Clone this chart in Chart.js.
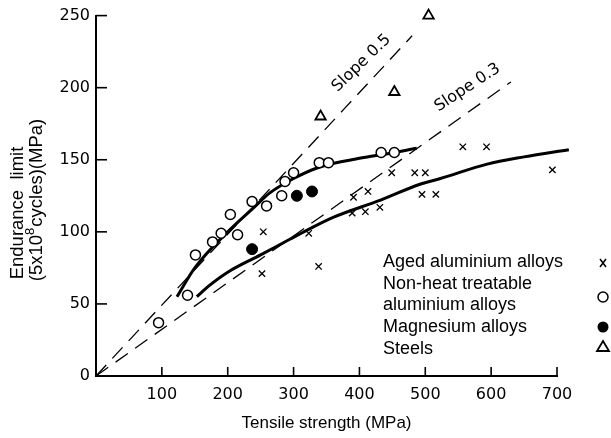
<!DOCTYPE html>
<html>
<head>
<meta charset="utf-8">
<script src="https://cdn.jsdelivr.net/npm/chart.js@4.4.0/dist/chart.umd.min.js"></script>
<style>
  html, body { margin: 0; padding: 0; background: #fff; }
  #wrap { width: 611px; height: 438px; }
</style>
</head>
<body>
<div id="wrap"><canvas id="chart"></canvas></div>
<script>
// points: [tensile strength, endurance limit] in MPa
const agedAlloys = [[252,71],[254,100],[323,99],[338,76],[389,113],[391,124],[409,114],[413,128],
  [431,117],[449,141],[484,141],[500,141],[495,126],[516,126],[557,159],[593,159],[693,143]];
const nonHeatAlloys = [[95,37],[139,56],[151,84],[177,93],[190,99],[204,112],[215,98],[237,121],
  [259,118],[282,125],[287,135],[300,141],[339,148],[353,148],[433,155],[453,155]];
const magnesiumAlloys = [[237,88],[305,125],[328,128]];
const steels = [[341,180],[453,197],[505,250]];

// fitted curves and slope guides
const fitNonHeat = [[123,55],[150,75],[200,100],[240,117],[264,127],[300,137],[340,145],[400,151],[440,154],[487,158]];
const fitAged = [[153,55],[170,62],[200,72],[250,84],[295,95],[320,101],[360,110],[432,122],[492,133],
  [523,137],[594,147],[650,152],[718,157]];
const slope05 = [[0,0],[480,236]];
const slope03 = [[0,0],[630,204]];

const xTicks = [100,200,300,400,500,600,700];
const yTicks = [50,100,150,200,250];
const slopeLabels = ['Slope 0.5', 'Slope 0.3'];
const legendLabels = [['Aged aluminium alloys'], ['Non-heat treatable', 'aluminium alloys'], ['Magnesium alloys'], ['Steels']];

const toXY = pts => pts.map(([x, y]) => ({ x, y }));
const TEXT_FONT = '"Liberation Sans", Arial, sans-serif';
const TICK_FONT = '"DejaVu Sans", sans-serif';

function mark(ctx, style, x, y) {
  ctx.save();
  ctx.strokeStyle = '#000';
  ctx.fillStyle = '#fff';
  ctx.lineWidth = 1.5;
  ctx.beginPath();
  if (style === 'x') {
    ctx.moveTo(x - 3, y - 4); ctx.lineTo(x + 3, y + 4);
    ctx.moveTo(x + 3, y - 4); ctx.lineTo(x - 3, y + 4);
    ctx.stroke();
  } else if (style === 'o') {
    ctx.arc(x, y, 5, 0, Math.PI * 2); ctx.fill(); ctx.stroke();
  } else if (style === 'dot') {
    ctx.fillStyle = '#000';
    ctx.arc(x, y, 5.5, 0, Math.PI * 2); ctx.fill();
  } else {
    ctx.lineWidth = 1.8;
    ctx.moveTo(x, y - 6); ctx.lineTo(x + 6, y + 4); ctx.lineTo(x - 6, y + 4); ctx.closePath();
    ctx.fill(); ctx.stroke();
  }
  ctx.restore();
}

const decor = {
  id: 'decor',
  afterDraw(chart) {
    const { ctx, chartArea: a, scales: { x, y } } = chart;
    ctx.save();
    ctx.strokeStyle = '#000';
    ctx.lineWidth = 1.6;
    // inward tick marks
    xTicks.forEach(v => {
      const px = x.getPixelForValue(v);
      ctx.beginPath(); ctx.moveTo(px, a.bottom); ctx.lineTo(px, a.bottom - 9); ctx.stroke();
    });
    yTicks.forEach(v => {
      const py = y.getPixelForValue(v);
      ctx.beginPath(); ctx.moveTo(a.left, py); ctx.lineTo(a.left + 11, py); ctx.stroke();
    });

    // slope labels along the dashed guides
    ctx.fillStyle = '#000';
    ctx.font = '16px ' + TICK_FONT;
    ctx.textAlign = 'center';
    ctx.textBaseline = 'middle';
    [[403, 217, -0.77], [564, 200, -0.58]].forEach(([dx, dy, rot], i) => {
      ctx.save();
      ctx.translate(x.getPixelForValue(dx), y.getPixelForValue(dy));
      ctx.rotate(rot);
      ctx.fillText(slopeLabels[i], 0, 0);
      ctx.restore();
    });

    // y axis title, two lines with a superscript
    const big = '18.5px ' + TEXT_FONT, small = '13px ' + TEXT_FONT;
    ctx.font = big;
    ctx.save();
    ctx.translate(18, 213);
    ctx.rotate(-Math.PI / 2);
    ctx.fillText('Endurance  limit', 0, 0);
    ctx.restore();
    ctx.save();
    ctx.translate(37, 200);
    ctx.rotate(-Math.PI / 2);
    const p1 = '(5x10', p2 = '8', p3 = 'cycles)(MPa)';
    const w1 = ctx.measureText(p1).width, w3 = ctx.measureText(p3).width;
    ctx.font = small;
    const w2 = ctx.measureText(p2).width + 1;
    let u = -(w1 + w2 + w3) / 2;
    ctx.textAlign = 'left';
    ctx.font = big;
    ctx.fillText(p1, u, 0); u += w1;
    ctx.font = small;
    ctx.fillText(p2, u, -7); u += w2;
    ctx.font = big;
    ctx.fillText(p3, u, 0);
    ctx.restore();

    // legend: text on the left, symbol on the right
    ctx.font = '18px ' + TEXT_FONT;
    ctx.textAlign = 'left';
    ctx.textBaseline = 'alphabetic';
    const baselines = [[266.5], [288.5, 310], [332], [353.5]];
    const symY = [263, 297, 327, 347];
    const styles = ['x', 'o', 'dot', 'tri'];
    legendLabels.forEach((lines, i) => {
      lines.forEach((t, j) => ctx.fillText(t, 383, baselines[i][j]));
      mark(ctx, styles[i], 603, symY[i]);
    });
    ctx.restore();
  }
};

const lineDs = (data, dashed) => ({
  type: 'line',
  data: toXY(data),
  borderColor: '#000',
  borderWidth: dashed ? 1.3 : 3,
  borderDash: dashed ? [15, 9] : [],
  pointRadius: 0,
  tension: dashed ? 0 : 0.4,
  cubicInterpolationMode: 'monotone',
  fill: false,
  clip: false,
  order: 5
});

const pointDs = (data, style, radius, fill, bw) => ({
  type: 'scatter',
  data: toXY(data),
  pointStyle: style,
  pointRadius: radius,
  pointBorderWidth: bw,
  borderColor: '#000',
  backgroundColor: fill,
  pointBackgroundColor: fill,
  clip: false,
  order: 0
});

new Chart(document.getElementById('chart'), {
  type: 'scatter',
  data: {
    datasets: [
      lineDs(slope05, true),
      lineDs(slope03, true),
      lineDs(fitNonHeat, false),
      lineDs(fitAged, false),
      pointDs(agedAlloys, 'crossRot', 4.5, '#000', 1.3),
      pointDs(nonHeatAlloys, 'circle', 5, '#fff', 1.5),
      pointDs(magnesiumAlloys, 'circle', 5.5, '#000', 1),
      pointDs(steels, 'triangle', 6, '#fff', 1.8)
    ]
  },
  options: {
    responsive: true,
    maintainAspectRatio: false,
    animation: false,
    layout: { padding: { top: 15, right: 54, left: 0, bottom: 0 } },
    plugins: { legend: { display: false }, tooltip: { enabled: false } },
    scales: {
      x: {
        type: 'linear',
        min: 0,
        max: 700,
        afterFit: s => { s.height = 62; },
        grid: { display: false, drawTicks: false },
        border: { display: true, color: '#000', width: 2 },
        ticks: {
          stepSize: 100,
          padding: 9,
          color: '#000',
          font: { family: TICK_FONT, size: 16 },
          callback: v => (v === 0 ? '' : v)
        },
        title: {
          display: true,
          text: 'Tensile strength (MPa)',
          color: '#000',
          font: { family: TEXT_FONT, size: 17 },
          padding: { top: 0, bottom: 4 }
        }
      },
      y: {
        type: 'linear',
        min: 0,
        max: 250,
        afterFit: s => { s.width = 96; },
        grid: { display: false, drawTicks: false },
        border: { display: true, color: '#000', width: 2 },
        ticks: {
          stepSize: 50,
          padding: 6,
          color: '#000',
          font: { family: TICK_FONT, size: 16 }
        }
      }
    }
  },
  plugins: [decor]
});
</script>
</body>
</html>
